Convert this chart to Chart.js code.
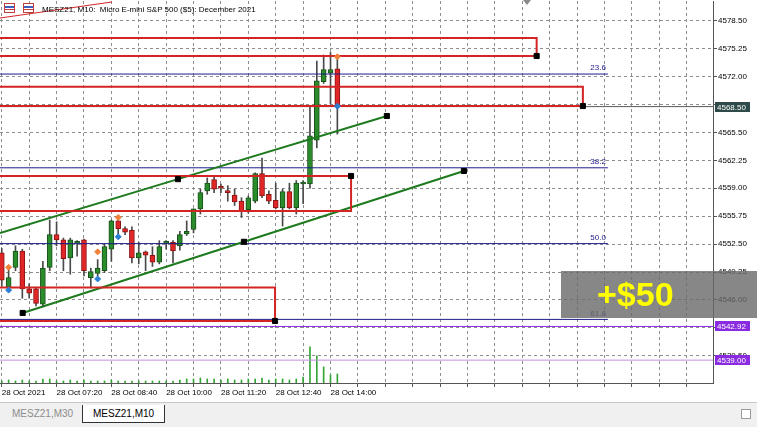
<!DOCTYPE html>
<html>
<head>
<meta charset="utf-8">
<script src="https://cdn.jsdelivr.net/npm/chart.js"></script>
<style>
    body { margin: 0; background: #fff; width: 757px; height: 427px; overflow: hidden; font-family: "Liberation Sans", Arial, sans-serif; }
    #wrap { position: relative; width: 757px; height: 402px; }
    #title { position: absolute; left: 4px; top: 3px; font-size: 8px; white-space: pre; color: #000; }
    .ico { display: inline-block; width: 9px; height: 8px; vertical-align: -1px; margin-right: 8px; border: 1px solid #c04040; background: linear-gradient(#fff 30%, #4060c0 30%, #4060c0 45%, #fff 45%, #fff 65%, #c04040 65%, #c04040 80%, #fff 80%); }
    #shift { position: absolute; left: 523px; top: 0; width: 0; height: 0; border-left: 4px solid transparent; border-right: 4px solid transparent; border-top: 5px solid #8a8a8a; }
    #profit { position: absolute; left: 561px; top: 271px; width: 196px; height: 47px; background: rgba(105, 105, 105, 0.8); color: #ffff00; font: bold 34px "Liberation Sans", Arial, sans-serif; line-height: 47px; text-indent: 36px; }
    #tabs { position: relative; width: 757px; height: 25px; background: #f0f0f0; border-top: 1px solid #c8c8c8; box-sizing: border-box; font-size: 10px; }
    .tab { position: absolute; top: 2px; height: 17px; line-height: 17px; padding: 0 10px; }
    #t1 { left: 2px; color: #8c8c8c; border-right: 1px solid #d0d0d0; }
    #t2 { left: 82px; background: #fff; border: 1px solid #333; border-top: none; color: #000; }
    #scroll { position: absolute; right: 6px; top: 6px; width: 8px; height: 8px; border: 1px solid #999; background: #fff; }
</style>
</head>
<body>
<div id="wrap">
    <canvas id="chart" width="757" height="402"></canvas>
    <div id="title"><span class="ico"></span><span class="ico"></span>MESZ21, M10:  Micro E-mini S&amp;P 500 ($5): December 2021</div>
    <div id="shift"></div>
    <div id="profit">+$50</div>
</div>
<div id="tabs">
    <div class="tab" id="t1">MESZ21,M30</div>
    <div class="tab" id="t2">MESZ21,M10</div>
    <div id="scroll"></div>
</div>
<script>
// 10-minute bars, 28 Oct 06:00 .. 14:10
const timeLabels = ['28 Oct 2021', '28 Oct 07:20', '28 Oct 08:40', '28 Oct 10:00', '28 Oct 11:20', '28 Oct 12:40', '28 Oct 14:00'];
const opens  = [4551.5, 4547.4, 4549.8, 4551.7, 4547.3, 4547.3, 4545.5, 4549.8, 4553.6, 4553.0, 4550.9, 4552.6, 4553.0, 4548.6, 4549.1, 4549.4, 4551.9, 4555.2, 4554.3, 4554.1, 4550.9, 4551.6, 4551.2, 4550.4, 4552.6, 4552.7, 4552.3, 4553.7, 4554.2, 4556.6, 4558.7, 4560.0, 4559.1, 4558.6, 4558.2, 4557.5, 4556.5, 4557.5, 4560.7, 4558.3, 4557.6, 4556.7, 4558.6, 4556.7, 4559.5, 4559.5, 4564.6, 4571.4, 4572.4, 4572.9];
const highs  = [4552.0, 4549.9, 4552.3, 4551.9, 4547.9, 4547.5, 4550.5, 4555.3, 4555.1, 4553.2, 4553.2, 4552.9, 4553.1, 4549.7, 4550.7, 4552.5, 4555.3, 4555.5, 4554.5, 4554.5, 4552.7, 4551.7, 4552.2, 4552.9, 4552.9, 4552.9, 4554.0, 4555.2, 4556.6, 4558.9, 4560.2, 4560.4, 4559.5, 4559.3, 4558.9, 4557.9, 4558.1, 4560.8, 4562.5, 4558.7, 4559.6, 4558.9, 4559.6, 4559.9, 4559.9, 4568.6, 4573.8, 4574.5, 4574.8, 4574.3];
const lows   = [4547.6, 4547.0, 4549.4, 4546.2, 4546.2, 4545.3, 4545.2, 4549.4, 4552.3, 4549.4, 4549.0, 4551.1, 4548.8, 4547.4, 4548.8, 4549.2, 4550.5, 4553.7, 4553.6, 4550.3, 4550.2, 4549.4, 4549.9, 4550.2, 4551.9, 4550.3, 4551.8, 4553.5, 4553.8, 4556.0, 4558.3, 4558.5, 4558.5, 4557.5, 4557.0, 4555.6, 4556.1, 4557.3, 4557.9, 4557.2, 4556.6, 4554.6, 4556.6, 4556.0, 4557.2, 4559.0, 4563.7, 4571.2, 4568.8, 4565.3];
const closes = [4548.3, 4548.6, 4551.7, 4547.3, 4546.8, 4545.6, 4549.7, 4553.6, 4553.0, 4550.8, 4553.0, 4552.7, 4549.4, 4549.3, 4549.7, 4552.2, 4555.2, 4554.3, 4553.9, 4550.9, 4551.5, 4551.2, 4550.4, 4552.2, 4552.7, 4551.7, 4553.6, 4554.0, 4556.6, 4558.5, 4559.6, 4558.9, 4559.0, 4558.5, 4557.4, 4556.4, 4557.9, 4560.7, 4558.1, 4557.5, 4556.7, 4558.6, 4556.7, 4559.6, 4559.6, 4565.1, 4571.5, 4572.8, 4572.8, 4568.5];
const volumes = [2, 3, 2, 3, 2, 2, 4, 4, 2, 2, 3, 2, 3, 2, 2, 2, 3, 2, 2, 2, 2, 2, 2, 2, 2, 2, 3, 4, 4, 5, 4, 4, 3, 4, 3, 3, 4, 4, 5, 3, 4, 4, 3, 4, 6, 36, 27, 16, 8, 9];

// trade arrows
const entryMarks = [[1, 4549.8], [14, 4551.6], [17, 4555.6], [49, 4574.3]];
const exitMarks  = [[1, 4547.15], [14, 4548.45], [17, 4553.35], [49, 4568.55]];

// drawn objects
const fibNames  = ['23.6', '38.2', '50.0', '61.8'];
const fibLevels = [4572.29, 4561.38, 4552.56, 4543.74];
const fibEnd = 88.5;
const rectTops    = [4576.49, 4570.82, 4560.43, 4547.46];
const rectBottoms = [4574.39, 4568.57, 4556.36, 4543.56];
const rectEnds    = [78.1, 84.85, 51.0, 39.9];
const rectAnchorIsTop = [false, false, true, false];
const upperChannel = [[-0.26, 4553.80], [25.72, 4560.06], [56.23, 4567.41]];
const lowerChannel = [[3.05, 4544.49], [35.36, 4552.77], [67.48, 4561.01]];
const redTrend = [[-0.26, 4578.81], [16.1, 4580.68]];
const bidPrice = 4568.50;
const levelLines = [4542.92, 4539.00];
const yTicks = [4539.50, 4542.75, 4546.00, 4549.25, 4552.50, 4555.75, 4559.00, 4562.25, 4565.50, 4568.75, 4572.00, 4575.25, 4578.50];

const xMin = -0.26, xMax = 103.85;
const yMin = 4536.34, yMax = 4580.79;

Chart.defaults.font.family = '"Liberation Sans", Arial, sans-serif';
Chart.defaults.font.size = 8;
Chart.defaults.color = '#000';

const pts = (arr) => arr.map((p) => ({ x: p[0], y: p[1] }));
const hline = (p, x1, x2) => [{ x: x1, y: p }, { x: x2, y: p }];

let datasets = [];

datasets.push({
    type: 'bar', label: 'volume', yAxisID: 'yv', order: 9, grouped: false,
    data: volumes.map((v, i) => ({ x: i, y: v })),
    backgroundColor: '#33a533', barThickness: 1
});
datasets.push({
    type: 'bar', label: 'wicks', order: 6, grouped: false,
    data: opens.map((o, i) => ({ x: i, y: [lows[i], highs[i]] })),
    backgroundColor: '#4a4a4a', barThickness: 1
});
datasets.push({
    type: 'bar', label: 'bodies', order: 5, grouped: false,
    data: opens.map((o, i) => ({ x: i, y: [o, closes[i]] })),
    backgroundColor: opens.map((o, i) => closes[i] >= o ? '#2a8c2a' : '#e02626'),
    borderColor: opens.map((o, i) => closes[i] >= o ? '#17501a' : '#8a1414'),
    borderWidth: 1, borderSkipped: false, barThickness: 5, minBarLength: 2
});

fibLevels.forEach((p) => {
    datasets.push({ type: 'line', order: 4, data: hline(p, xMin - 2, fibEnd), borderColor: '#1c1c8c', borderWidth: 1, pointRadius: 0 });
});
datasets.push({ type: 'line', order: 4, data: hline(bidPrice, xMin - 2, xMax + 2), borderColor: '#5a5a5a', borderWidth: 1, pointRadius: 0 });
datasets.push({ type: 'line', order: 4, data: hline(levelLines[0], xMin - 2, xMax + 2), borderColor: '#8a2be2', borderWidth: 1, pointRadius: 0 });
datasets.push({ type: 'line', order: 4, data: hline(levelLines[1], xMin - 2, xMax + 2), borderColor: '#c48ce0', borderWidth: 1, pointRadius: 0 });

rectTops.forEach((t, k) => {
    const b = rectBottoms[k], e = rectEnds[k];
    datasets.push({
        type: 'line', order: 3,
        data: [{ x: xMin - 2, y: t }, { x: e, y: t }, { x: e, y: b }, { x: xMin - 2, y: b }],
        borderColor: '#d42424', borderWidth: 2, pointRadius: 0
    });
});

datasets.push({ type: 'line', order: 3, data: pts(upperChannel), borderColor: '#1d7a1d', borderWidth: 2, pointRadius: 0 });
datasets.push({ type: 'line', order: 3, data: pts(lowerChannel), borderColor: '#1d7a1d', borderWidth: 2, pointRadius: 0 });
datasets.push({ type: 'line', order: 3, data: pts(redTrend), borderColor: '#d42424', borderWidth: 1, pointRadius: 0 });

// anchor squares
const squares = [upperChannel[1], upperChannel[2], lowerChannel[0], lowerChannel[1], lowerChannel[2]];
rectEnds.forEach((e, k) => squares.push([e, rectAnchorIsTop[k] ? rectTops[k] : rectBottoms[k]]));
datasets.push({
    type: 'line', order: 1, showLine: false, data: pts(squares),
    pointStyle: 'rect', pointRadius: 3.6, pointBackgroundColor: '#000', pointBorderColor: '#000', pointBorderWidth: 1
});
datasets.push({
    type: 'line', order: 0, showLine: false, data: pts(entryMarks),
    pointStyle: 'rectRot', pointRadius: 3, pointBackgroundColor: '#f0803a', pointBorderColor: '#f0803a'
});
datasets.push({
    type: 'line', order: 0, showLine: false, data: pts(exitMarks),
    pointStyle: 'rectRot', pointRadius: 3, pointBackgroundColor: '#2c7fd4', pointBorderColor: '#2c7fd4'
});

const priceTags = [
    { value: bidPrice, color: '#2f4a4a' },
    { value: levelLines[0], color: '#8a2be2' },
    { value: levelLines[1], color: '#8a2be2' }
];

const overlay = {
    id: 'overlay',
    afterDatasetsDraw(chart) {
        const { ctx, scales: { x, y } } = chart;
        ctx.save();
        ctx.font = '8px "Liberation Sans", Arial, sans-serif';
        ctx.fillStyle = '#1c1c8c';
        ctx.textAlign = 'right';
        ctx.textBaseline = 'bottom';
        fibLevels.forEach((p, k) => {
            ctx.fillText(fibNames[k], x.getPixelForValue(fibEnd) - 2, y.getPixelForValue(p) - 2);
        });
        ctx.restore();
    },
    afterDraw(chart) {
        const { ctx, scales: { y } } = chart;
        ctx.save();
        ctx.font = '8px "Liberation Sans", Arial, sans-serif';
        ctx.textBaseline = 'middle';
        ctx.textAlign = 'left';
        priceTags.forEach((t) => {
            const py = Math.round(y.getPixelForValue(t.value));
            ctx.fillStyle = t.color;
            ctx.fillRect(715, py - 5, 35, 10);
            ctx.fillStyle = '#fff';
            ctx.fillText(t.value.toFixed(2), 717, py + 0.5);
        });
        ctx.restore();
    }
};

const gridTicks = [];
for (let v = 0; v <= 100; v += 4) gridTicks.push(v);

new Chart(document.getElementById('chart'), {
    type: 'bar',
    data: { datasets: datasets },
    plugins: [overlay],
    options: {
        responsive: false,
        animation: false,
        events: [],
        layout: { autoPadding: false, padding: { top: 1, left: 0, right: 0, bottom: 0 } },
        plugins: { legend: { display: false }, tooltip: { enabled: false } },
        scales: {
            x: {
                type: 'linear', position: 'bottom', min: xMin, max: xMax, offset: false,
                afterBuildTicks: (s) => { s.ticks = gridTicks.map((v) => ({ value: v })); },
                afterFit: (s) => { s.height = 19; s.paddingLeft = 0; s.paddingRight = 0; },
                grid: { color: '#8e8e8e', lineWidth: 1, offset: false, tickLength: 4, tickColor: '#555' },
                border: { display: true, color: '#555', dash: [3, 3] },
                ticks: {
                    autoSkip: false, maxRotation: 0, align: 'start', padding: 1,
                    callback: (v) => (v % 8 === 0 && v / 8 < timeLabels.length) ? timeLabels[v / 8] : ''
                }
            },
            y: {
                type: 'linear', position: 'right', min: yMin, max: yMax,
                afterBuildTicks: (s) => { s.ticks = yTicks.map((v) => ({ value: v })); },
                afterFit: (s) => { s.width = 44; s.paddingTop = 0; s.paddingBottom = 0; },
                grid: { color: '#8e8e8e', lineWidth: 1, tickLength: 4, tickColor: '#555' },
                border: { display: true, color: '#555', dash: [3, 3] },
                ticks: { padding: 1, callback: (v) => v.toFixed(2) }
            },
            yv: { type: 'linear', display: false, min: 0, max: 380 }
        }
    }
});
</script>
</body>
</html>
